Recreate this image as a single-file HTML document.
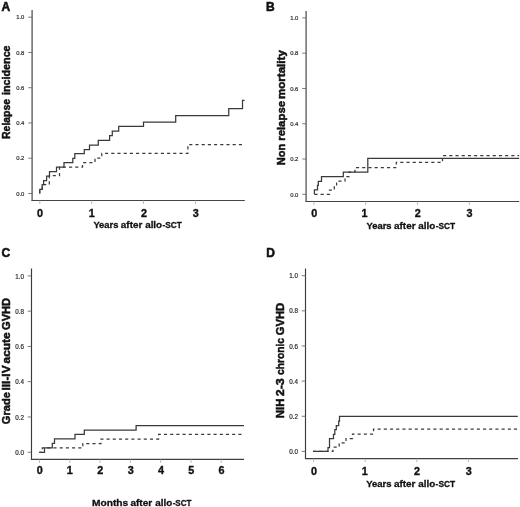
<!DOCTYPE html><html><head><meta charset="utf-8"><style>html,body{margin:0;padding:0;background:#fff;width:520px;height:507px;overflow:hidden}svg{display:block;will-change:transform}text{font-family:"Liberation Sans",sans-serif}.yl{font-size:6px;fill:#2e2e2e;stroke:#2e2e2e;stroke-width:0.2px}.xl{font-size:10.8px;font-weight:bold;fill:#111;stroke:#111;stroke-width:0.35px}.tt{font-size:9.6px;font-weight:bold;fill:#111;stroke:#111;stroke-width:0.3px}.yt{font-size:11.5px;font-weight:bold;fill:#111;stroke:#111;stroke-width:0.5px}.pl{font-size:12px;font-weight:bold;fill:#111;stroke:#111;stroke-width:0.55px}</style></head><body>
<svg width="520" height="507" viewBox="0 0 520 507">
<line x1="32.1" y1="10" x2="32.1" y2="200.5" stroke="#555" stroke-width="1.3"/>
<line x1="31.450000000000003" y1="200.5" x2="244.8" y2="200.5" stroke="#444" stroke-width="1.15"/>
<line x1="28.3" y1="193.50" x2="32.1" y2="193.50" stroke="#6a6a6a" stroke-width="0.9"/>
<text x="24.4" y="195.70" text-anchor="end" class="yl" style="font-size:5.9px">0.0</text>
<line x1="28.3" y1="158.24" x2="32.1" y2="158.24" stroke="#6a6a6a" stroke-width="0.9"/>
<text x="24.4" y="160.44" text-anchor="end" class="yl" style="font-size:5.9px">0.2</text>
<line x1="28.3" y1="122.98" x2="32.1" y2="122.98" stroke="#6a6a6a" stroke-width="0.9"/>
<text x="24.4" y="125.18" text-anchor="end" class="yl" style="font-size:5.9px">0.4</text>
<line x1="28.3" y1="87.72" x2="32.1" y2="87.72" stroke="#6a6a6a" stroke-width="0.9"/>
<text x="24.4" y="89.92" text-anchor="end" class="yl" style="font-size:5.9px">0.6</text>
<line x1="28.3" y1="52.46" x2="32.1" y2="52.46" stroke="#6a6a6a" stroke-width="0.9"/>
<text x="24.4" y="54.66" text-anchor="end" class="yl" style="font-size:5.9px">0.8</text>
<line x1="28.3" y1="17.20" x2="32.1" y2="17.20" stroke="#6a6a6a" stroke-width="0.9"/>
<text x="24.4" y="19.40" text-anchor="end" class="yl" style="font-size:5.9px">1.0</text>
<line x1="39.80" y1="200.5" x2="39.80" y2="204.0" stroke="#aaa" stroke-width="0.8"/>
<text x="40.10" y="216.6" text-anchor="middle" class="xl">0</text>
<line x1="91.70" y1="200.5" x2="91.70" y2="204.0" stroke="#aaa" stroke-width="0.8"/>
<text x="91.80" y="216.6" text-anchor="middle" class="xl">1</text>
<line x1="143.60" y1="200.5" x2="143.60" y2="204.0" stroke="#aaa" stroke-width="0.8"/>
<text x="143.90" y="216.6" text-anchor="middle" class="xl">2</text>
<line x1="195.50" y1="200.5" x2="195.50" y2="204.0" stroke="#aaa" stroke-width="0.8"/>
<text x="195.80" y="216.6" text-anchor="middle" class="xl">3</text>
<text x="93.39" y="228.3" textLength="25.03" lengthAdjust="spacingAndGlyphs" class="tt">Years</text>
<text x="120.86" y="228.3" textLength="21.44" lengthAdjust="spacingAndGlyphs" class="tt">after</text>
<text x="145.16" y="228.3" textLength="16.97" lengthAdjust="spacingAndGlyphs" class="tt">allo</text>
<text x="162.52" y="228.3" textLength="19.41" lengthAdjust="spacingAndGlyphs" class="tt">-SCT</text>
<text transform="rotate(-90)" x="-138.95" y="9.8" textLength="40.06" lengthAdjust="spacingAndGlyphs" class="yt">Relapse</text>
<text transform="rotate(-90)" x="-95.10" y="9.8" textLength="49.72" lengthAdjust="spacingAndGlyphs" class="yt">incidence</text>
<text x="1.6" y="10.8" class="pl">A</text>
<path d="M39.75 193.5V189.3H42.2V184.5H43.6V180.6H46.6V176H49.5V171.5H56.5V167H64V162.5H72.8V158.3H74.8V153.5H84.3V149.5H89.5V145H98.3V140.3H109.6V135.5H112.3V131.2H118.7V126.3H143.5V122H175.7V115.7H228.75V108.5H242.5V100.4H244.6" fill="none" stroke="#3a3a3a" stroke-width="1.25"/>
<path d="M39.75 193.5V189.3H42.2V184.5H49.3V175.5H59.5V167H82.5V162.5H95V158H101.8V153.4H187.9V144.6H245" fill="none" stroke="#3a3a3a" stroke-width="1.25" stroke-dasharray="3.1 3.1"/>
<line x1="306.1" y1="11" x2="306.1" y2="201.45" stroke="#555" stroke-width="1.3"/>
<line x1="305.45000000000005" y1="201.45" x2="519.2" y2="201.45" stroke="#444" stroke-width="1.15"/>
<line x1="302.3" y1="194.30" x2="306.1" y2="194.30" stroke="#6a6a6a" stroke-width="0.9"/>
<text x="298.4" y="196.50" text-anchor="end" class="yl" style="font-size:5.9px">0.0</text>
<line x1="302.3" y1="159.02" x2="306.1" y2="159.02" stroke="#6a6a6a" stroke-width="0.9"/>
<text x="298.4" y="161.22" text-anchor="end" class="yl" style="font-size:5.9px">0.2</text>
<line x1="302.3" y1="123.74" x2="306.1" y2="123.74" stroke="#6a6a6a" stroke-width="0.9"/>
<text x="298.4" y="125.94" text-anchor="end" class="yl" style="font-size:5.9px">0.4</text>
<line x1="302.3" y1="88.46" x2="306.1" y2="88.46" stroke="#6a6a6a" stroke-width="0.9"/>
<text x="298.4" y="90.66" text-anchor="end" class="yl" style="font-size:5.9px">0.6</text>
<line x1="302.3" y1="53.18" x2="306.1" y2="53.18" stroke="#6a6a6a" stroke-width="0.9"/>
<text x="298.4" y="55.38" text-anchor="end" class="yl" style="font-size:5.9px">0.8</text>
<line x1="302.3" y1="17.90" x2="306.1" y2="17.90" stroke="#6a6a6a" stroke-width="0.9"/>
<text x="298.4" y="20.10" text-anchor="end" class="yl" style="font-size:5.9px">1.0</text>
<line x1="313.90" y1="201.45" x2="313.90" y2="204.95" stroke="#aaa" stroke-width="0.8"/>
<text x="314.20" y="217.3" text-anchor="middle" class="xl">0</text>
<line x1="365.70" y1="201.45" x2="365.70" y2="204.95" stroke="#aaa" stroke-width="0.8"/>
<text x="364.50" y="217.3" text-anchor="middle" class="xl">1</text>
<line x1="417.50" y1="201.45" x2="417.50" y2="204.95" stroke="#aaa" stroke-width="0.8"/>
<text x="417.80" y="217.3" text-anchor="middle" class="xl">2</text>
<line x1="469.30" y1="201.45" x2="469.30" y2="204.95" stroke="#aaa" stroke-width="0.8"/>
<text x="469.60" y="217.3" text-anchor="middle" class="xl">3</text>
<text x="366.49" y="229.0" textLength="25.14" lengthAdjust="spacingAndGlyphs" class="tt">Years</text>
<text x="394.06" y="229.0" textLength="21.44" lengthAdjust="spacingAndGlyphs" class="tt">after</text>
<text x="418.36" y="229.0" textLength="16.97" lengthAdjust="spacingAndGlyphs" class="tt">allo</text>
<text x="435.72" y="229.0" textLength="19.52" lengthAdjust="spacingAndGlyphs" class="tt">-SCT</text>
<text transform="rotate(-90)" x="-165.19" y="284.5" textLength="21.42" lengthAdjust="spacingAndGlyphs" class="yt">Non</text>
<text transform="rotate(-90)" x="-140.80" y="284.5" textLength="39.84" lengthAdjust="spacingAndGlyphs" class="yt">relapse</text>
<text transform="rotate(-90)" x="-99.01" y="284.5" textLength="48.82" lengthAdjust="spacingAndGlyphs" class="yt">mortality</text>
<text x="266.1" y="11.0" class="pl">B</text>
<path d="M314.4 194.3V189.8H317.5V185.3H318.3V181.3H321.5V176.6H343.3V172.2H367.8V158.4H519.2" fill="none" stroke="#3a3a3a" stroke-width="1.25"/>
<path d="M314.4 194.3H329.5V190H334.3V185.5H336.6V181.1H345V176.6H349V172.2H355V167.7H396.3V162.4H442.5V155.6H519.2" fill="none" stroke="#3a3a3a" stroke-width="1.25" stroke-dasharray="3.1 3.1"/>
<line x1="31.5" y1="268.5" x2="31.5" y2="459.4" stroke="#3a3a3a" stroke-width="1.15"/>
<line x1="30.925" y1="459.4" x2="244.0" y2="459.4" stroke="#404040" stroke-width="1.25"/>
<line x1="27.7" y1="452.25" x2="31.5" y2="452.25" stroke="#6a6a6a" stroke-width="0.9"/>
<text x="24.0" y="454.85" text-anchor="end" class="yl" style="font-size:6.3px">0.0</text>
<line x1="27.7" y1="416.98" x2="31.5" y2="416.98" stroke="#6a6a6a" stroke-width="0.9"/>
<text x="24.0" y="419.58" text-anchor="end" class="yl" style="font-size:6.3px">0.2</text>
<line x1="27.7" y1="381.71" x2="31.5" y2="381.71" stroke="#6a6a6a" stroke-width="0.9"/>
<text x="24.0" y="384.31" text-anchor="end" class="yl" style="font-size:6.3px">0.4</text>
<line x1="27.7" y1="346.44" x2="31.5" y2="346.44" stroke="#6a6a6a" stroke-width="0.9"/>
<text x="24.0" y="349.04" text-anchor="end" class="yl" style="font-size:6.3px">0.6</text>
<line x1="27.7" y1="311.17" x2="31.5" y2="311.17" stroke="#6a6a6a" stroke-width="0.9"/>
<text x="24.0" y="313.77" text-anchor="end" class="yl" style="font-size:6.3px">0.8</text>
<line x1="27.7" y1="275.90" x2="31.5" y2="275.90" stroke="#6a6a6a" stroke-width="0.9"/>
<text x="24.0" y="278.50" text-anchor="end" class="yl" style="font-size:6.3px">1.0</text>
<line x1="39.50" y1="459.4" x2="39.50" y2="462.9" stroke="#aaa" stroke-width="0.8"/>
<text x="39.80" y="473.6" text-anchor="middle" class="xl">0</text>
<line x1="69.78" y1="459.4" x2="69.78" y2="462.9" stroke="#aaa" stroke-width="0.8"/>
<text x="69.88" y="473.6" text-anchor="middle" class="xl">1</text>
<line x1="100.06" y1="459.4" x2="100.06" y2="462.9" stroke="#aaa" stroke-width="0.8"/>
<text x="100.36" y="473.6" text-anchor="middle" class="xl">2</text>
<line x1="130.34" y1="459.4" x2="130.34" y2="462.9" stroke="#aaa" stroke-width="0.8"/>
<text x="130.64" y="473.6" text-anchor="middle" class="xl">3</text>
<line x1="160.62" y1="459.4" x2="160.62" y2="462.9" stroke="#aaa" stroke-width="0.8"/>
<text x="160.92" y="473.6" text-anchor="middle" class="xl">4</text>
<line x1="190.90" y1="459.4" x2="190.90" y2="462.9" stroke="#aaa" stroke-width="0.8"/>
<text x="191.20" y="473.6" text-anchor="middle" class="xl">5</text>
<line x1="221.18" y1="459.4" x2="221.18" y2="462.9" stroke="#aaa" stroke-width="0.8"/>
<text x="221.48" y="473.6" text-anchor="middle" class="xl">6</text>
<text x="91.97" y="505.8" textLength="36.30" lengthAdjust="spacingAndGlyphs" class="tt">Months</text>
<text x="130.46" y="505.8" textLength="21.75" lengthAdjust="spacingAndGlyphs" class="tt">after</text>
<text x="155.26" y="505.8" textLength="16.97" lengthAdjust="spacingAndGlyphs" class="tt">allo</text>
<text x="172.64" y="505.8" textLength="18.80" lengthAdjust="spacingAndGlyphs" class="tt">-SCT</text>
<text transform="rotate(-90)" x="-424.20" y="10.4" textLength="32.03" lengthAdjust="spacingAndGlyphs" class="yt">Grade</text>
<text transform="rotate(-90)" x="-390.55" y="10.4" textLength="25.18" lengthAdjust="spacingAndGlyphs" class="yt">III-IV</text>
<text transform="rotate(-90)" x="-363.50" y="10.4" textLength="31.26" lengthAdjust="spacingAndGlyphs" class="yt">acute</text>
<text transform="rotate(-90)" x="-329.90" y="10.4" textLength="32.02" lengthAdjust="spacingAndGlyphs" class="yt">GVHD</text>
<text x="1.5" y="257.4" class="pl">C</text>
<path d="M39.2 452.25H44.5V447.9H52.3V443.4H54.5V438.9H75V434.3H84.3V430.1H136.1V425.7H244" fill="none" stroke="#3a3a3a" stroke-width="1.25"/>
<path d="M39.2 452.25H42.3V447.9H82.8V443.5H101V439H158.6V434.4H244" fill="none" stroke="#3a3a3a" stroke-width="1.25" stroke-dasharray="3.1 3.1"/>
<line x1="305.5" y1="268.5" x2="305.5" y2="458.6" stroke="#3a3a3a" stroke-width="1.15"/>
<line x1="304.925" y1="458.6" x2="518.0" y2="458.6" stroke="#404040" stroke-width="1.25"/>
<line x1="301.7" y1="451.40" x2="305.5" y2="451.40" stroke="#6a6a6a" stroke-width="0.9"/>
<text x="298.1" y="454.00" text-anchor="end" class="yl" style="font-size:6.3px">0.0</text>
<line x1="301.7" y1="416.26" x2="305.5" y2="416.26" stroke="#6a6a6a" stroke-width="0.9"/>
<text x="298.1" y="418.86" text-anchor="end" class="yl" style="font-size:6.3px">0.2</text>
<line x1="301.7" y1="381.12" x2="305.5" y2="381.12" stroke="#6a6a6a" stroke-width="0.9"/>
<text x="298.1" y="383.72" text-anchor="end" class="yl" style="font-size:6.3px">0.4</text>
<line x1="301.7" y1="345.98" x2="305.5" y2="345.98" stroke="#6a6a6a" stroke-width="0.9"/>
<text x="298.1" y="348.58" text-anchor="end" class="yl" style="font-size:6.3px">0.6</text>
<line x1="301.7" y1="310.84" x2="305.5" y2="310.84" stroke="#6a6a6a" stroke-width="0.9"/>
<text x="298.1" y="313.44" text-anchor="end" class="yl" style="font-size:6.3px">0.8</text>
<line x1="301.7" y1="275.70" x2="305.5" y2="275.70" stroke="#6a6a6a" stroke-width="0.9"/>
<text x="298.1" y="278.30" text-anchor="end" class="yl" style="font-size:6.3px">1.0</text>
<line x1="313.60" y1="458.6" x2="313.60" y2="462.1" stroke="#aaa" stroke-width="0.8"/>
<text x="313.90" y="475.0" text-anchor="middle" class="xl">0</text>
<line x1="365.20" y1="458.6" x2="365.20" y2="462.1" stroke="#aaa" stroke-width="0.8"/>
<text x="364.70" y="475.0" text-anchor="middle" class="xl">1</text>
<line x1="416.80" y1="458.6" x2="416.80" y2="462.1" stroke="#aaa" stroke-width="0.8"/>
<text x="417.10" y="475.0" text-anchor="middle" class="xl">2</text>
<line x1="468.40" y1="458.6" x2="468.40" y2="462.1" stroke="#aaa" stroke-width="0.8"/>
<text x="468.70" y="475.0" text-anchor="middle" class="xl">3</text>
<text x="366.19" y="487.3" textLength="25.34" lengthAdjust="spacingAndGlyphs" class="tt">Years</text>
<text x="393.96" y="487.3" textLength="21.44" lengthAdjust="spacingAndGlyphs" class="tt">after</text>
<text x="418.26" y="487.3" textLength="16.97" lengthAdjust="spacingAndGlyphs" class="tt">allo</text>
<text x="435.62" y="487.3" textLength="19.62" lengthAdjust="spacingAndGlyphs" class="tt">-SCT</text>
<text transform="rotate(-90)" x="-418.26" y="283.5" textLength="19.68" lengthAdjust="spacingAndGlyphs" class="yt">NIH</text>
<text transform="rotate(-90)" x="-396.28" y="283.5" textLength="18.09" lengthAdjust="spacingAndGlyphs" class="yt">2-3</text>
<text transform="rotate(-90)" x="-375.05" y="283.5" textLength="37.10" lengthAdjust="spacingAndGlyphs" class="yt">chronic</text>
<text transform="rotate(-90)" x="-335.21" y="283.5" textLength="32.43" lengthAdjust="spacingAndGlyphs" class="yt">GVHD</text>
<text x="266.2" y="257.3" class="pl">D</text>
<path d="M313 451.4H328V447.5H329.5V438.5H333.5V434.3H334.8V429.6H336.3V425.5H338.7V421H339.5V416.4H517.8" fill="none" stroke="#3a3a3a" stroke-width="1.25"/>
<path d="M313 451.4H333V447.2H339.2V442.8H346V438.5H352.5V434H373.5V429.2H517.8" fill="none" stroke="#3a3a3a" stroke-width="1.25" stroke-dasharray="3.1 3.1"/>
</svg></body></html>
